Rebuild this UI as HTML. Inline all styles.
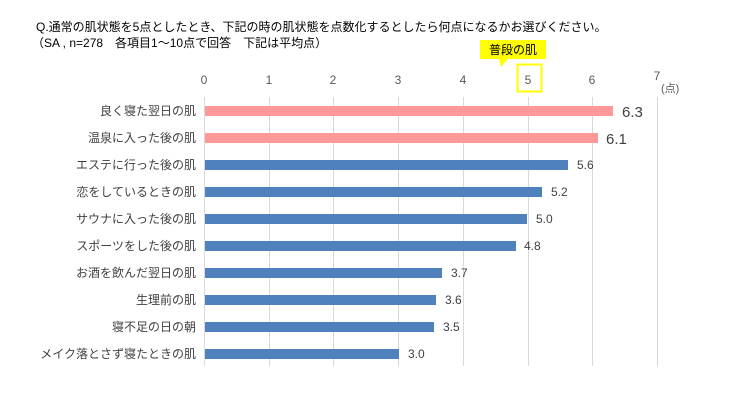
<!DOCTYPE html><html><head><meta charset="utf-8"><style>body{margin:0;background:#fff}</style></head><body>
<svg width="732" height="400" xmlns="http://www.w3.org/2000/svg" font-family="'Liberation Sans','Noto Sans CJK JP',sans-serif">
<rect width="732" height="400" fill="#fff"/>
<text x="36" y="31" font-size="12" fill="#000">Q.通常の肌状態を5点としたとき、下記の時の肌状態を点数化するとしたら何点になるかお選びください。</text>
<text x="32" y="47" font-size="12" fill="#000">（SA , n=278　各項目1～10点で回答　下記は平均点）</text>
<g stroke="#d9d9d9" stroke-width="1">
<line x1="204.5" y1="97" x2="204.5" y2="366"/><line x1="269.5" y1="97" x2="269.5" y2="366"/><line x1="333.5" y1="97" x2="333.5" y2="366"/><line x1="398.5" y1="97" x2="398.5" y2="366"/><line x1="463.5" y1="97" x2="463.5" y2="366"/><line x1="528.5" y1="97" x2="528.5" y2="366"/><line x1="592.5" y1="97" x2="592.5" y2="366"/><line x1="657.5" y1="97" x2="657.5" y2="366"/>
</g>
<g font-size="12" fill="#595959" text-anchor="middle">
<text x="204" y="84">0</text><text x="269" y="84">1</text><text x="333" y="84">2</text><text x="398" y="84">3</text><text x="463" y="84">4</text><text x="528" y="84">5</text><text x="592" y="84">6</text><text x="657" y="80">7</text>
</g>
<text x="661" y="92" font-size="11" fill="#595959">(点)</text>
<rect x="517.5" y="64.5" width="24" height="27" fill="none" stroke="#ffff00" stroke-width="2"/>
<path d="M480 40 H546 V59 H508 L501 67 L499 59 H480 Z" fill="#ffff00"/>
<text x="513" y="54" font-size="12" fill="#000" text-anchor="middle">普段の肌</text>
<g font-size="12" fill="#404040" text-anchor="end">
<text x="196" y="115">良く寝た翌日の肌</text><text x="196" y="142">温泉に入った後の肌</text><text x="196" y="169">エステに行った後の肌</text><text x="196" y="196">恋をしているときの肌</text><text x="196" y="223">サウナに入った後の肌</text><text x="196" y="250">スポーツをした後の肌</text><text x="196" y="277">お酒を飲んだ翌日の肌</text><text x="196" y="304">生理前の肌</text><text x="196" y="331">寝不足の日の朝</text><text x="196" y="358">メイク落とさず寝たときの肌</text>
</g>
<g fill="#ff9999"><rect x="205" y="106" width="408" height="10"/><rect x="205" y="133" width="393" height="10"/></g>
<g fill="#4f81bd"><rect x="205" y="160" width="363" height="10"/><rect x="205" y="187" width="337" height="10"/><rect x="205" y="214" width="322" height="10"/><rect x="205" y="241" width="311" height="10"/><rect x="205" y="268" width="237" height="10"/><rect x="205" y="295" width="231" height="10"/><rect x="205" y="322" width="229" height="10"/><rect x="205" y="349" width="194" height="10"/></g>
<g fill="#404040">
<text x="622" y="117" font-size="15">6.3</text><text x="606" y="144" font-size="15">6.1</text>
<g font-size="12"><text x="577" y="169">5.6</text><text x="551" y="196">5.2</text><text x="536" y="223">5.0</text><text x="524" y="250">4.8</text><text x="451" y="277">3.7</text><text x="445" y="304">3.6</text><text x="443" y="331">3.5</text><text x="408" y="358">3.0</text></g>
</g>
</svg>
</body></html>
